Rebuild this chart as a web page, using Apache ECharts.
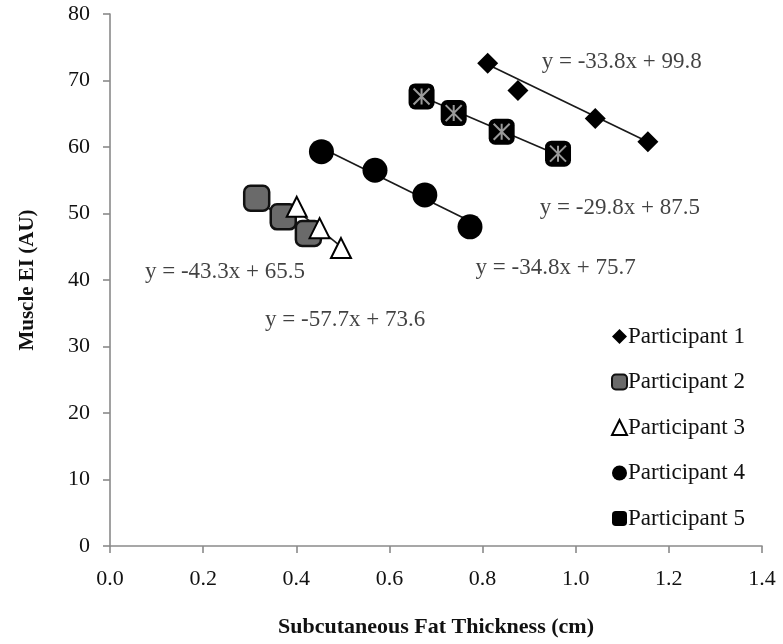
<!DOCTYPE html>
<html>
<head>
<meta charset="utf-8">
<script src="https://cdn.jsdelivr.net/npm/echarts@6/dist/echarts.min.js"></script>
<style>html,body{margin:0;padding:0;background:#fff}#c{width:783px;height:644px}</style>
</head>
<body>
<div id="c"></div>
<script>
// Data
const seriesNames = ['Participant 1', 'Participant 2', 'Participant 3', 'Participant 4', 'Participant 5'];
const p1 = [[0.811, 72.6], [0.876, 68.5], [1.042, 64.3], [1.155, 60.8]];
const p2 = [[0.315, 52.3], [0.372, 49.5], [0.426, 47.0]];
const p3 = [[0.401, 51.0], [0.450, 47.8], [0.496, 44.8]];
const p4 = [[0.454, 59.3], [0.569, 56.5], [0.676, 52.8], [0.773, 48.0]];
const p5 = [[0.669, 67.6], [0.738, 65.1], [0.841, 62.3], [0.962, 59.0]];
// trend line endpoints
const t1 = [[0.811, 72.4], [1.160, 60.6]];
const t2 = [[0.310, 52.1], [0.430, 46.9]];
const t3 = [[0.400, 50.5], [0.500, 44.8]];
const t4 = [[0.450, 60.0], [0.780, 48.6]];
const t5 = [[0.669, 67.6], [0.962, 58.8]];
// equation labels
const eqText = ['y = -33.8x + 99.8', 'y = -29.8x + 87.5', 'y = -34.8x + 75.7', 'y = -43.3x + 65.5', 'y = -57.7x + 73.6'];
const eqPos = [[0.927, 72.8], [0.923, 50.8], [0.785, 41.8], [0.075, 41.2], [0.333, 34.0]];
const xTicks = [0, 0.2, 0.4, 0.6, 0.8, 1.0, 1.2, 1.4];
const yTicks = [0, 10, 20, 30, 40, 50, 60, 70, 80];

const FONT = 'Liberation Serif';
const TXT = '#111';
const chart = echarts.init(document.getElementById('c'), null, {renderer: 'canvas'});

function trend(d) {
  return {type: 'line', data: d, symbol: 'none', silent: true, z: 1,
    lineStyle: {color: '#1a1a1a', width: 1.7}};
}
const xPath = 'path://M0,0L10,10M10,0L0,10M5,0L5,10';

const option = {
  backgroundColor: '#fff',
  animation: false,
  grid: {left: 110, right: 21, top: 14, bottom: 98, containLabel: false},
  legend: {
    orient: 'vertical', left: 606, top: 320, itemGap: 22.5, itemWidth: 15, itemHeight: 15,
    data: seriesNames,
    textStyle: {fontFamily: FONT, fontSize: 23, color: TXT, padding: [0, 0, 0, -4]}
  },
  xAxis: {
    type: 'value', min: xTicks[0], max: xTicks[xTicks.length - 1], interval: 0.2,
    name: 'Subcutaneous Fat Thickness (cm)', nameLocation: 'middle', nameGap: 70,
    nameTextStyle: {fontFamily: FONT, fontSize: 22, fontWeight: 'bold', color: TXT},
    axisLine: {lineStyle: {color: '#8a8a8a', width: 1.6}},
    axisTick: {show: true, length: 7, lineStyle: {color: '#8a8a8a', width: 1.6}},
    axisLabel: {fontFamily: FONT, fontSize: 22, color: TXT, margin: 22,
      formatter: v => v.toFixed(1)},
    splitLine: {show: false}
  },
  yAxis: {
    type: 'value', min: yTicks[0], max: yTicks[yTicks.length - 1], interval: 10,
    name: 'Muscle EI (AU)', nameLocation: 'middle', nameGap: 72, nameRotate: 90,
    nameTextStyle: {fontFamily: FONT, fontSize: 21, fontWeight: 'bold', color: TXT},
    axisLine: {show: true, lineStyle: {color: '#8a8a8a', width: 1.6}},
    axisTick: {show: true, length: 7, lineStyle: {color: '#8a8a8a', width: 1.6}},
    axisLabel: {fontFamily: FONT, fontSize: 22, color: TXT, margin: 20},
    splitLine: {show: false}
  },
  series: [
    trend(t1), trend(t2), trend(t3), trend(t4), trend(t5),
    {name: seriesNames[0], type: 'scatter', data: p1, symbol: 'diamond', symbolSize: 21, z: 3,
      itemStyle: {color: '#000', opacity: 1}},
    {name: seriesNames[1], type: 'scatter', data: p2, symbol: 'roundRect', symbolSize: 25, z: 3,
      itemStyle: {color: '#6a6a6a', borderColor: '#111', borderWidth: 2.5, opacity: 1}},
    {name: seriesNames[2], type: 'scatter', data: p3, symbol: 'triangle', symbolSize: 20, z: 4,
      itemStyle: {color: '#fff', borderColor: '#000', borderWidth: 2, opacity: 1}},
    {name: seriesNames[3], type: 'scatter', data: p4, symbol: 'circle', symbolSize: 25, z: 3,
      itemStyle: {color: '#000', opacity: 1}},
    {name: seriesNames[4], type: 'scatter', data: p5, symbol: 'roundRect', symbolSize: 26, z: 3,
      itemStyle: {color: '#000', opacity: 1}},
    {type: 'scatter', data: p5, symbol: xPath, symbolSize: 16, z: 5, silent: true,
      itemStyle: {color: 'transparent', borderColor: '#9a9a9a', borderWidth: 2, opacity: 1}},
    {type: 'scatter', silent: true, z: 6, symbolSize: 0,
      data: eqPos.map((p, i) => ({value: p, label: {formatter: eqText[i]}})),
      label: {show: true, position: 'right', distance: 0, fontFamily: FONT, fontSize: 23, color: TXT}}
  ]
};
chart.setOption(option);
</script>
</body>
</html>
